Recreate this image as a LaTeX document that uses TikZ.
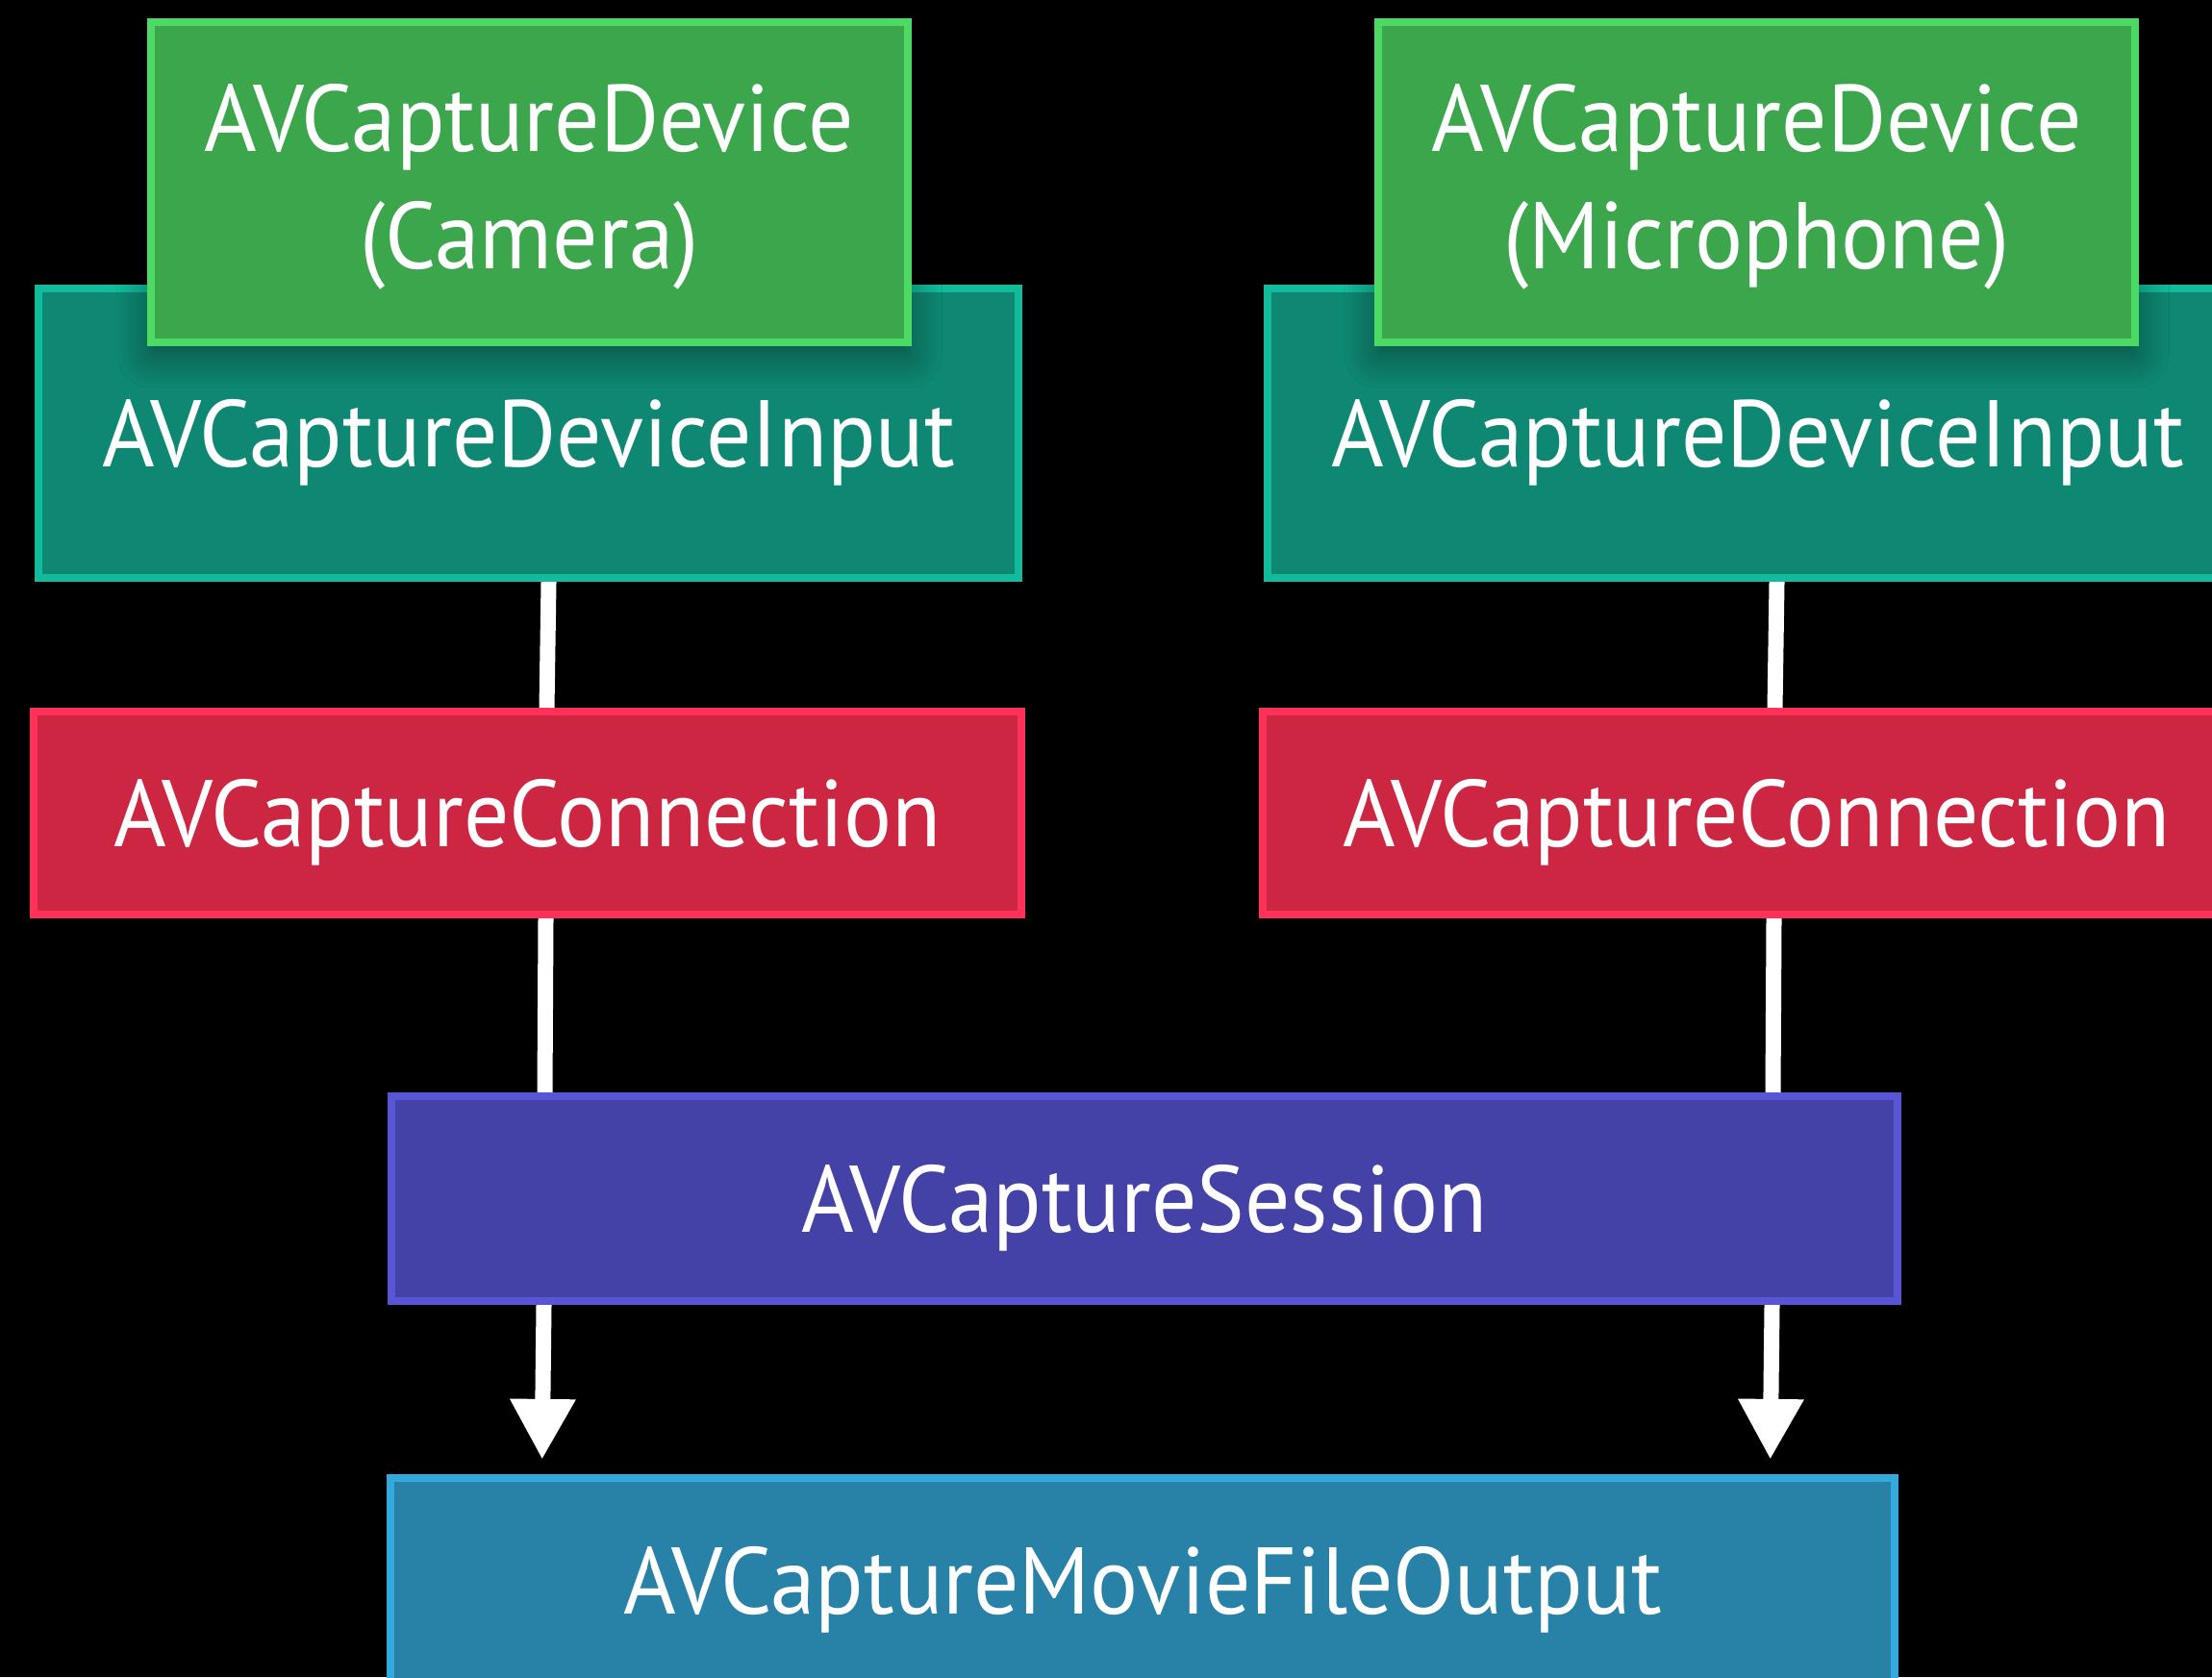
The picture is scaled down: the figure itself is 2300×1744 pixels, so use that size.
\documentclass[tikz,border=0pt]{standalone}
\usepackage{fontspec}
\setmainfont[FakeStretch=0.95]{PT Sans}
\usepackage{tikz}
\usetikzlibrary{arrows.meta}
\usetikzlibrary{shadows.blur}

\definecolor{devfill}{HTML}{3CA64C}
\definecolor{devline}{HTML}{4CD964}
\definecolor{infill}{HTML}{0E8872}
\definecolor{inline}{HTML}{12BB9B}
\definecolor{connfill}{HTML}{CC2643}
\definecolor{connline}{HTML}{FF3158}
\definecolor{sessfill}{HTML}{4442A6}
\definecolor{sessline}{HTML}{5856D6}
\definecolor{outfill}{HTML}{2882A8}
\definecolor{outline}{HTML}{34AADC}

\begin{document}
\begin{tikzpicture}
    [x=0.01cm, y=-0.01cm,
     every node/.style={align=center, text=white, inner sep=0pt, line width=0.08cm,
       text height=0.69cm, text depth=0cm, font=\fontsize{28}{34.5}\selectfont},
     device/.style={draw=devline, fill=devfill, minimum width=7.87cm, minimum height=3.33cm,
       text height=1.9cm, text depth=0.11cm,
       blur shadow={shadow xshift=0pt, shadow yshift=-0.12cm, shadow blur radius=0.35cm,
         shadow opacity=45, shadow blur steps=12}},
     input/.style={draw=inline, fill=infill, minimum width=10.19cm, minimum height=3.01cm},
     conn/.style={draw=connline, fill=connfill, minimum width=10.27cm, minimum height=2.11cm},
     session/.style={draw=sessline, fill=sessfill, minimum width=15.66cm, minimum height=2.13cm},
     output/.style={draw=outline, fill=outfill, minimum width=15.64cm, minimum height=2.13cm},
     link/.style={draw=white, line width=0.16cm}]
    \fill [black] (0, 0) rectangle (2300, 1744);
    \useasboundingbox (0, 0) rectangle (2300, 1744);
    \clip (0, 0) rectangle (2300, 1744);

    \node (camin) [input] at (549.5, 450.5) {AVCaptureDeviceInput};
    \node (micin) [input] at (1827.5, 450.5) {AVCaptureDeviceInput};
    \node (cam) [device] at (550.5, 189.5) {AVCaptureDevice\\(Camera)};
    \node (mic) [device] at (1826.5, 189.5) {AVCaptureDevice\\(Microphone)};

    \node (camconn) [conn] at (548.5, 845.5) {AVCaptureConnection};
    \node (micconn) [conn] at (1826.5, 845.5) {AVCaptureConnection};

    \node (session) [session] at (1190, 1246.5) {AVCaptureSession};
    \node (output) [output] at (1188, 1643.5) {AVCaptureMovieFileOutput};

    \draw [link] ([xshift=0.21cm]camin.south) -- ([xshift=0.20cm]camconn.north);
    \draw [link] ([xshift=0.19cm]camconn.south) -- ([xshift=0.18cm]camconn.south |- session.north);
    \draw [link, -{Triangle[width=0.64cm, length=0.63cm]}, shorten >=0.15cm]
      ([xshift=0.17cm]camconn.south |- session.south) -- ([xshift=0.15cm]camconn.south |- output.north);

    \draw [link] ([xshift=0.20cm]micin.south) -- ([xshift=0.19cm]micconn.north);
    \draw [link] ([xshift=0.18cm]micconn.south) -- ([xshift=0.17cm]micconn.south |- session.north);
    \draw [link, -{Triangle[width=0.64cm, length=0.63cm]}, shorten >=0.15cm]
      ([xshift=0.16cm]micconn.south |- session.south) -- ([xshift=0.14cm]micconn.south |- output.north);
\end{tikzpicture}
\end{document}
